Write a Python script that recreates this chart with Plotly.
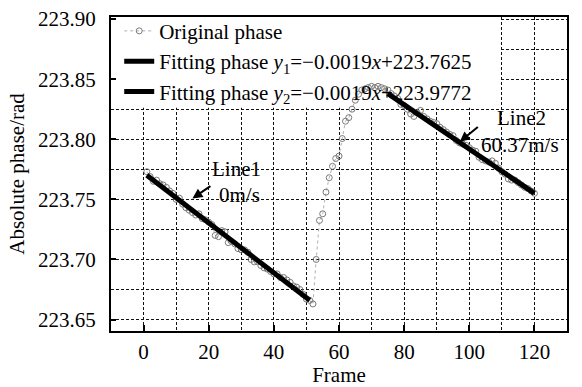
import plotly.graph_objects as go

frames = list(range(1, 121))
phase = [
    223.773, 223.769, 223.765, 223.766, 223.763, 223.762, 223.760, 223.757, 223.755, 223.750,
    223.751, 223.746, 223.743, 223.741, 223.739, 223.737, 223.738, 223.734, 223.733, 223.731,
    223.729, 223.720, 223.719, 223.724, 223.723, 223.714, 223.715, 223.713, 223.709, 223.708,
    223.708, 223.706, 223.700, 223.698, 223.698, 223.695, 223.693, 223.692, 223.690, 223.688,
    223.688, 223.685, 223.685, 223.683, 223.681, 223.678, 223.677, 223.675, 223.671, 223.667,
    223.666, 223.663, 223.700, 223.7325, 223.738, 223.756, 223.768, 223.7775, 223.784, 223.786,
    223.8006, 223.815, 223.818, 223.825, 223.8325, 223.8375, 223.841, 223.842, 223.843, 223.844,
    223.843, 223.844, 223.843, 223.842, 223.841, 223.838, 223.836, 223.834, 223.829, 223.828,
    223.825, 223.821, 223.819, 223.822, 223.824, 223.819, 223.817, 223.815, 223.814, 223.813,
    223.810, 223.808, 223.806, 223.804, 223.803, 223.799, 223.797, 223.796, 223.795, 223.793,
    223.791, 223.790, 223.785, 223.783, 223.782, 223.781, 223.782, 223.780, 223.776, 223.773,
    223.771, 223.767, 223.766, 223.766, 223.764, 223.762, 223.760, 223.759, 223.757, 223.755,
]
fit1_x = [1, 51]
fit1_y = [223.770, 223.666]
fit2_x = [75, 120]
fit2_y = [223.838, 223.755]

x_ticks = [0, 20, 40, 60, 80, 100, 120]
y_ticks = [223.65, 223.70, 223.75, 223.80, 223.85, 223.90]

FONT = "Liberation Serif, Times New Roman, serif"
FS = 21

fig = go.Figure()
fig.add_trace(go.Scatter(
    x=frames, y=phase, mode="lines+markers", name="Original phase",
    line=dict(color="#b0b0b0", width=1, dash="dot"),
    marker=dict(symbol="circle-open", size=6, color="#7a7a7a", line=dict(width=1)),
))
fig.add_trace(go.Scatter(
    x=fit1_x, y=fit1_y, mode="lines",
    name="Fitting phase <i>y</i><sub>1</sub>=−0.0019<i>x</i>+223.7625",
    line=dict(color="black", width=5),
))
fig.add_trace(go.Scatter(
    x=fit2_x, y=fit2_y, mode="lines",
    name="Fitting phase <i>y</i><sub>2</sub>=−0.0019<i>x</i>+223.9772",
    line=dict(color="black", width=5),
))

# white area behind legend (above grid, below data)
fig.add_shape(type="rect", xref="x", yref="y", x0=-10, x1=109.7, y0=223.8262, y1=223.9017,
              fillcolor="white", line=dict(width=0), layer="between")

ann_font = dict(family=FONT, size=FS, color="black")
fig.add_annotation(x=15, y=223.7508, ax=22, ay=-15, text=" ", showarrow=True,
                   arrowhead=2, arrowsize=1, arrowwidth=2, arrowcolor="black")
fig.add_annotation(x=97.1, y=223.798, ax=22, ay=-18, text=" ", showarrow=True,
                   arrowhead=2, arrowsize=1, arrowwidth=2, arrowcolor="black")
fig.add_annotation(x=28.5, y=223.7744, yshift=1, text="Line1", showarrow=False, font=ann_font, xanchor="center", yanchor="middle")
fig.add_annotation(x=29.5, y=223.7536, yshift=0, text="0m/s", showarrow=False, font=ann_font, xanchor="center", yanchor="middle")
fig.add_annotation(x=116, y=223.816, yshift=2, text="Line2", showarrow=False, font=ann_font, xanchor="center", yanchor="middle")
fig.add_annotation(x=115.5, y=223.7936, yshift=2, text="60.37m/s", showarrow=False, font=ann_font, xanchor="center", yanchor="middle")

grid_common = dict(gridcolor="#111111", gridwidth=1, griddash="3px,2px")

fig.update_xaxes(
    range=[-10, 130], tickvals=x_ticks, ticktext=[str(v) for v in x_ticks],
    ticks="inside", ticklen=6, tickwidth=2, tickcolor="black", ticklabelstandoff=1,
    showline=True, linecolor="black", linewidth=2, mirror=True, automargin=False,
    showgrid=True, **grid_common, zeroline=False,
    minor=dict(dtick=10, tick0=0, showgrid=True, ticks="", **grid_common),
    title=dict(text="Frame", font=dict(family=FONT, size=FS, color="black"), standoff=7),
    tickfont=dict(family=FONT, size=FS, color="black"),
)
fig.update_yaxes(
    range=[223.6405, 223.9017], tickvals=y_ticks, ticktext=[f"{v:.2f}" for v in y_ticks],
    ticks="inside", ticklen=5, tickwidth=1.5, tickcolor="black", ticklabelstandoff=9,
    showline=True, linecolor="black", linewidth=2, mirror=True, automargin=False,
    showgrid=True, **grid_common, zeroline=False,
    minor=dict(dtick=0.025, tick0=223.65, showgrid=True, ticks="", **grid_common),
    title=dict(text="Absolute phase/rad", font=dict(family=FONT, size=FS, color="black"), standoff=8),
    tickfont=dict(family=FONT, size=FS, color="black"),
)

fig.update_layout(
    width=582, height=387,
    margin=dict(l=111, r=15, t=17, b=56, autoexpand=False),
    plot_bgcolor="white", paper_bgcolor="white",
    font=dict(family=FONT, size=FS, color="black"),
    legend=dict(x=0.018, y=1.02, xanchor="left", yanchor="top", bgcolor="rgba(0,0,0,0)",
                font=dict(family=FONT, size=FS, color="black"), tracegroupgap=0,
                itemwidth=30),
    showlegend=True,
)

fig.write_html("out.html")
